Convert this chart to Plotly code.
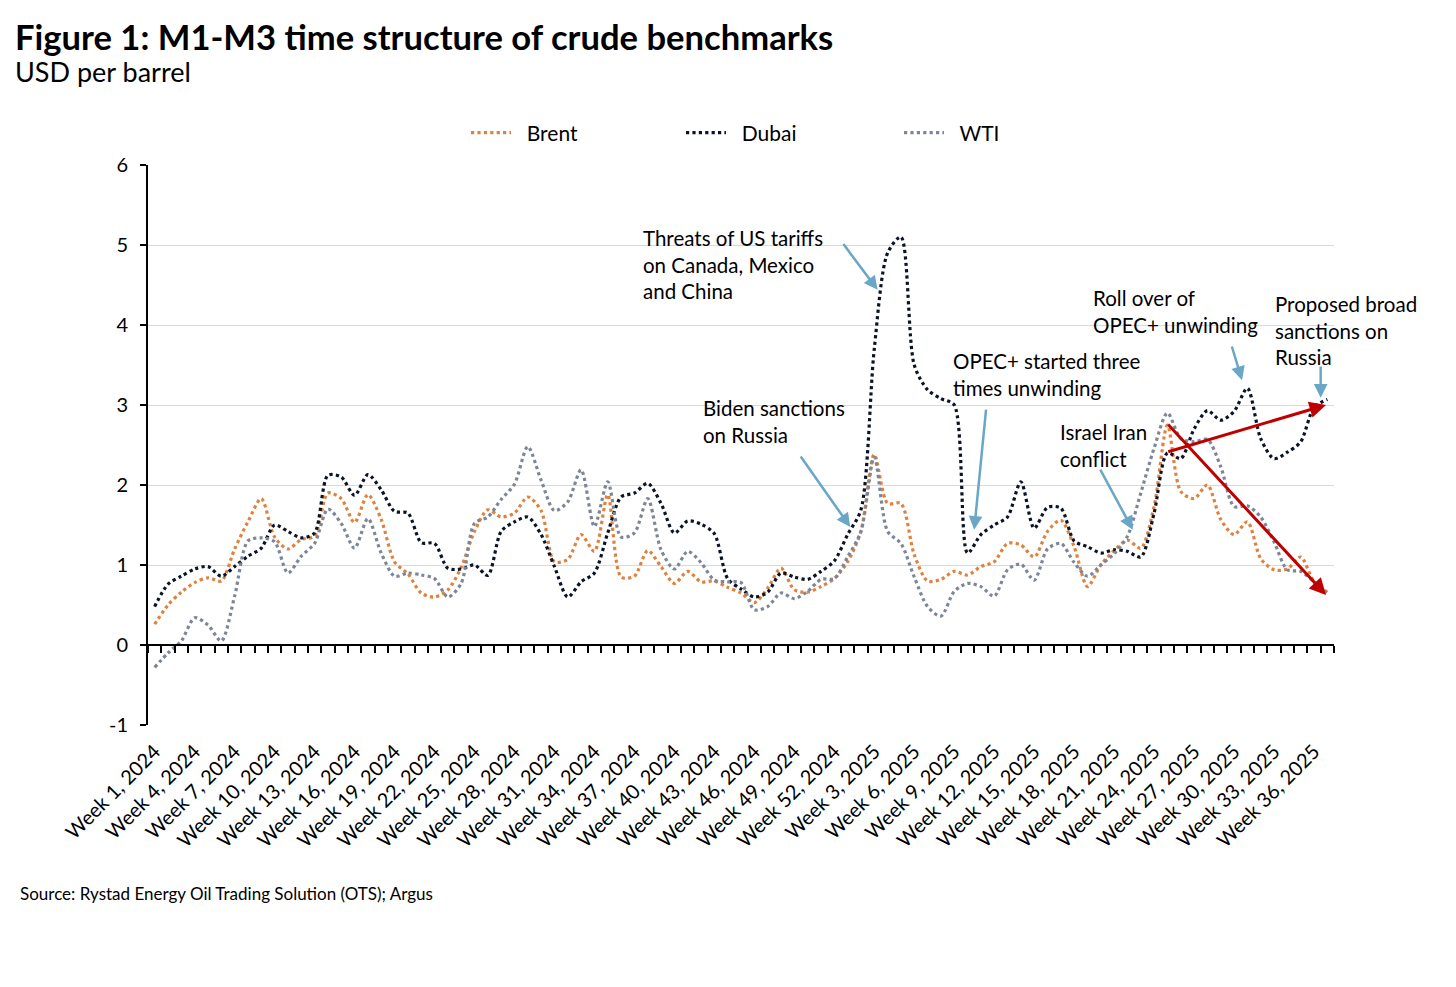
import plotly.graph_objects as go

# ---------------- data ----------------
weeks_2024 = list(range(1, 53))
weeks_2025 = list(range(1, 38))
categories = [f"Week {w}, 2024" for w in weeks_2024] + [f"Week {w}, 2025" for w in weeks_2025]
tick_labels = categories[::3]
y_ticks = [-1, 0, 1, 2, 3, 4, 5, 6]
y_tick_text = ["-1", "0", "1", "2", "3", "4", "5", "6"]

brent = [0.26, 0.50, 0.66, 0.78, 0.84, 0.80, 1.20, 1.54, 1.83, 1.35,
         1.20, 1.32, 1.36, 1.90, 1.83, 1.53, 1.88, 1.57, 1.04, 0.89,
         0.65, 0.60, 0.69, 0.97, 1.42, 1.69, 1.60, 1.65, 1.85, 1.68,
         1.04, 1.07, 1.38, 1.17, 1.88, 0.85, 0.86, 1.18, 0.98, 0.77,
         0.92, 0.79, 0.80, 0.72, 0.65, 0.53, 0.71, 0.96, 0.69, 0.66,
         0.73, 0.83, 1.04, 1.42, 2.38, 1.77, 1.77, 1.13, 0.80, 0.82,
         0.92, 0.875, 0.98, 1.04, 1.27, 1.25, 1.10, 1.42, 1.56, 1.23,
         0.73, 1.00, 1.18, 1.31, 1.21, 1.73, 2.75, 1.92, 1.83, 2.00,
         1.57, 1.38, 1.54, 1.08, 0.94, 0.95, 1.10, 0.79, 0.66]

dubai = [0.48, 0.76, 0.86, 0.95, 0.98, 0.86, 0.98, 1.11, 1.21, 1.50,
         1.42, 1.34, 1.40, 2.12, 2.10, 1.87, 2.13, 1.94, 1.67, 1.65,
         1.28, 1.27, 0.96, 0.95, 1.00, 0.87, 1.42, 1.54, 1.60, 1.38,
         0.98, 0.60, 0.79, 0.90, 1.40, 1.85, 1.90, 2.02, 1.77, 1.40,
         1.55, 1.51, 1.39, 0.83, 0.70, 0.60, 0.66, 0.90, 0.85, 0.82,
         0.92, 1.05, 1.38, 1.69, 3.70, 4.90, 5.10, 3.50, 3.19, 3.08,
         3.00, 1.15, 1.38, 1.50, 1.60, 2.04, 1.46, 1.72, 1.71, 1.30,
         1.23, 1.15, 1.19, 1.17, 1.10, 1.65, 2.40, 2.33, 2.70, 2.93,
         2.81, 2.92, 3.21, 2.58, 2.33, 2.41, 2.54, 2.97, 3.07]

wti = [-0.28, -0.10, 0.05, 0.34, 0.25, 0.05, 0.61, 1.30, 1.34, 1.29,
       0.90, 1.11, 1.27, 1.70, 1.52, 1.21, 1.58, 1.15, 0.86, 0.90,
       0.875, 0.83, 0.60, 0.77, 1.52, 1.60, 1.82, 2.01, 2.48, 2.06,
       1.68, 1.79, 2.19, 1.48, 2.04, 1.35, 1.40, 1.83, 1.19, 0.95,
       1.17, 1.03, 0.81, 0.79, 0.78, 0.44, 0.48, 0.65, 0.58, 0.67,
       0.82, 0.83, 1.10, 1.42, 2.35, 1.42, 1.27, 0.85, 0.48, 0.36,
       0.67, 0.77, 0.73, 0.61, 0.94, 1.01, 0.81, 1.20, 1.27, 1.03,
       0.86, 1.00, 1.14, 1.36, 1.90, 2.46, 2.90, 2.58, 2.54, 2.57,
       2.23, 1.73, 1.74, 1.60, 1.29, 0.94, 0.92, 0.79, 0.64]

series_names = ["Brent", "Dubai", "WTI"]
series_values = [brent, dubai, wti]
series_colors = ["#E0823F", "#0B1426", "#7D8697"]

# ---------------- layout helpers ----------------
OFF = 8                      # page body margin of the browser
W, H = 1456 - OFF, 987 - OFF
PL, PT, PW, PH = 148, 165, 1186, 560   # plot area in screenshot pixels
L, T = PL - OFF, PT - OFF
R, B = W - L - PW, H - T - PH
FONT = "Lato"


def paper(px, py):
    return (px - PL) / PW, (PT + PH - py) / PH


n = len(categories)
legend_ids = ["legend", "legend2", "legend3"]
legend_px = [466, 681, 899]

fig = go.Figure()
for name, vals, col, lid in zip(series_names, series_values, series_colors, legend_ids):
    fig.add_trace(go.Scatter(
        x=categories, y=vals, name="\u00a0\u00a0" + name, mode="lines",
        line=dict(color=col, width=3.2, dash="dot", shape="spline", smoothing=0.8),
        hoverinfo="skip", legend=lid,
    ))

# invisible helper trace so that the category axis at y=0 (x2) is drawn
fig.add_trace(go.Scatter(x=[-0.5, n - 0.5], y=[0, 0], xaxis="x2", yaxis="y",
                         mode="lines", line=dict(width=0, color="rgba(0,0,0,0)"),
                         showlegend=False, hoverinfo="skip"))

annotations = []

# title / subtitle / source
for txt, px, py, size in [
    ("<b>Figure 1: M1-M3 time structure of crude benchmarks</b>", 13, 37, 34.6),
    ("USD per barrel", 13, 72, 27),
    ("Source: Rystad Energy Oil Trading Solution (OTS); Argus", 18, 893, 17),
]:
    x, y = paper(px, py)
    annotations.append(dict(text=txt, x=x, y=y, xref="paper", yref="paper",
                            xanchor="left", yanchor="middle", showarrow=False,
                            font=dict(family=FONT, size=size, color="#000")))

# callout texts
for txt, px, py in [
    ("Threats of US tariffs<br>on Canada, Mexico<br>and China", 641, 224),
    ("Biden sanctions<br>on Russia", 701, 394),
    ("OPEC+ started three<br>times unwinding", 951, 347),
    ("Roll over of<br>OPEC+ unwinding", 1091, 284),
    ("Proposed broad<br>sanctions on<br>Russia", 1273, 290),
    ("Israel Iran<br>conflict", 1058, 418),
]:
    x, y = paper(px, py)
    annotations.append(dict(text=txt, x=x, y=y, xref="paper", yref="paper",
                            xanchor="left", yanchor="top", align="left", showarrow=False,
                            font=dict(family=FONT, size=20.5, color="#000")))

# arrows (head x,y ; tail ax,ay) in category-index / value coordinates
blue = "#6AA6C6"
red = "#C00000"
for (hx, hy, tx, ty, col, w) in [
    (54.25, 4.44, 51.6, 5.03, blue, 2.5),
    (52.2, 1.475, 48.4, 2.375, blue, 2.5),
    (61.5, 1.44, 62.4, 2.96, blue, 2.5),
    (81.6, 3.31, 80.8, 3.75, blue, 2.5),
    (87.5, 3.09, 87.5, 3.5, blue, 2.5),
    (73.4, 1.44, 70.9, 2.21, blue, 2.5),
    (87.9, 3.0, 75.95, 2.41, red, 3),
    (87.9, 0.625, 75.95, 2.775, red, 3),
]:
    annotations.append(dict(text="", x=hx, y=hy, ax=tx, ay=ty,
                            xref="x", yref="y", axref="x", ayref="y",
                            showarrow=True, arrowhead=2, arrowsize=1.1,
                            arrowwidth=w, arrowcolor=col))

legends = {}
for lid, px in zip(legend_ids, legend_px):
    lx, ly = paper(px, 133)
    legends[lid] = dict(orientation="h", x=lx, y=ly, xanchor="left", yanchor="middle",
                        font=dict(family=FONT, size=21, color="#000"),
                        itemwidth=40, bgcolor="rgba(0,0,0,0)")

fig.update_layout(
    width=W, height=H,
    margin=dict(l=L, r=R, t=T, b=B, autoexpand=False),
    paper_bgcolor="white", plot_bgcolor="white",
    font=dict(family=FONT, color="#000"),
    showlegend=True,
    annotations=annotations,
    xaxis=dict(type="category", categoryorder="array", categoryarray=categories,
               range=[-0.5, n - 0.5],
               tickmode="array", tickvals=tick_labels, ticktext=tick_labels,
               tickangle=-45, tickfont=dict(family=FONT, size=20, color="#000"),
               showgrid=False, showline=False, zeroline=False, ticks="",
               ticklabelstandoff=10, automargin=False),
    xaxis2=dict(overlaying="x", anchor="free", position=1 / 7,
                range=[-0.5, n - 0.5],
                tickmode="linear", tick0=-0.5, dtick=1,
                ticks="outside", ticklen=7, tickwidth=1.5, tickcolor="#000",
                showticklabels=False, showline=True, linecolor="#000", linewidth=2,
                showgrid=False, zeroline=False, automargin=False),
    yaxis=dict(range=[-1, 6], tickmode="array", tickvals=y_ticks, ticktext=y_tick_text,
               showgrid=True, gridcolor="#D9D9D9",
               gridwidth=1.2, zeroline=False, showline=True, linecolor="#000", linewidth=2,
               ticks="outside", ticklen=6, tickcolor="#000", tickwidth=1.5,
               tickfont=dict(family=FONT, size=20, color="#000"),
               ticklabelstandoff=8, automargin=False),
    **legends,
)

fig.write_html("out.html")
